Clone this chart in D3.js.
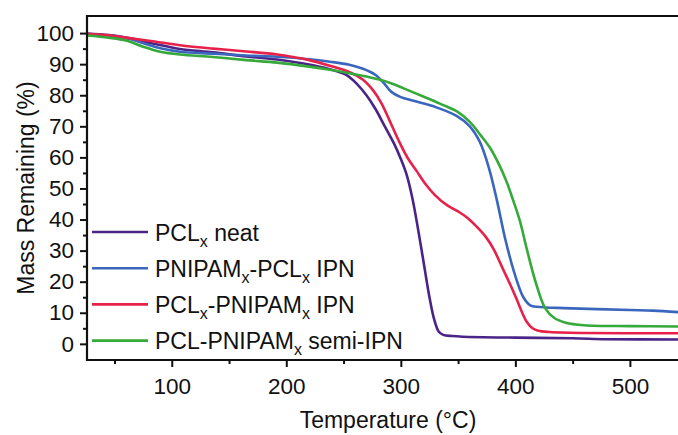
<!DOCTYPE html>
<html>
<head>
<meta charset="utf-8">
<script src="https://cdn.jsdelivr.net/npm/d3@7"></script>
<style>
  body { margin: 0; background: #fff; }
  svg text { font-family: "Liberation Sans", Arial, sans-serif; fill: #111; }
</style>
</head>
<body>
<svg id="chart" width="678" height="435"></svg>
<script>
// TGA curves: [temperature °C, mass %]
var pclNeat = [[26,99.8],[45,99.4],[64,98.3],[85,96.5],[107,94.9],[136,93.8],[165,92.5],[192,91.5],[220,89.9],[238,88.4],
  [252,86.6],[262,83.5],[270,80],[278,75.5],[286,70],[294,64.5],[300,59.5],[305,54.5],[310,47],[315,37],[320,26],[325,15],[329,8],
  [333,4],[337,2.9],[345,2.5],[354,2.3],[400,2.0],[450,1.8],[480,1.5],[542,1.4]];
var pnipamPcl = [[26,99.8],[45,99.2],[64,98.0],[85,95.6],[107,94.0],[136,93.4],[165,92.8],[192,92.4],[220,91.6],[238,90.8],
  [255,89.8],[267,88.5],[278,86.5],[285,84],[292,81],[300,79.4],[311,78.2],[331,76.1],[349,73.3],[360,70.1],[369,65],
  [377,56.5],[384,46],[391,34],[399,23],[407,15],[413,12.4],[425,11.8],[442,11.5],[500,10.9],[520,10.7],[542,10.2]];
var pclPnipam = [[26,99.8],[45,99.3],[64,98.3],[85,97.3],[107,96.1],[136,95.0],[165,94.1],[192,93.1],[220,91.3],[238,89.5],
  [255,87.5],[267,85.0],[276,81.5],[283,77.5],[290,72],[298,65.5],[306,59.8],[314,55.5],[322,51.2],[330,47.8],[340,44.7],
  [350,42.6],[358,40.6],[366,37.8],[374,34.5],[381,30.5],[388,25],[395,19.5],[401,14.5],[406,10],[410,7],[415,5],[420,4.2],
  [430,3.8],[460,3.5],[542,3.4]];
var semiIpn = [[26,99.2],[45,98.5],[60,97.6],[75,95.6],[90,94],[107,93.1],[136,92.3],[165,91.3],[192,90.5],[220,89.2],[238,88.2],
  [255,87.1],[270,86.0],[282,85],[292,83.8],[302,82.3],[313,80.6],[325,78.8],[336,77],[349,74.8],[360,71.5],[370,67],
  [378,63],[386,57.5],[392,52.5],[398,46.3],[404,39.5],[410,30.5],[418,19.5],[426,11.5],[434,8.3],[444,6.8],[460,6.0],[500,5.7],[542,5.6]];

var seriesNames = [["PCL", "x", " neat"], ["PNIPAM", "x", "-PCL", "x", " IPN"], ["PCL", "x", "-PNIPAM", "x", " IPN"], ["PCL-PNIPAM", "x", " semi-IPN"]];
var seriesData = [pclNeat, pnipamPcl, pclPnipam, semiIpn];
var seriesColors = ["#4a2486", "#3a67bd", "#e6224a", "#35a93a"];

var xMajor = [100, 200, 300, 400, 500];
var xMinor = [50, 150, 250, 350, 450];
var yMajor = [0, 10, 20, 30, 40, 50, 60, 70, 80, 90, 100];
var yMinor = [5, 15, 25, 35, 45, 55, 65, 75, 85, 95];

(function() {
  var svg = d3.select("#chart");
  var mLeft = 87, mRight = 678, mTop = 16, mBottom = 360;

  var x = d3.scaleLinear().domain([26, 542]).range([mLeft, mRight]);
  var y = d3.scaleLinear().domain([-5.2, 105.5]).range([mBottom, mTop]);

  var line = d3.line()
      .x(function(d) { return x(d[0]); })
      .y(function(d) { return y(d[1]); })
      .curve(d3.curveCatmullRom.alpha(0.5));

  var curves = svg.append("g");
  seriesData.forEach(function(s, i) {
    curves.append("path")
      .datum(s)
      .attr("d", line)
      .attr("fill", "none")
      .attr("stroke", seriesColors[i])
      .attr("stroke-width", 2.6)
      .attr("stroke-linejoin", "round");
  });

  // axes
  function styleAxis(g) {
    g.select(".domain").remove();
    g.selectAll("line").attr("stroke", "#111").attr("stroke-width", 2);
    g.selectAll("text").attr("font-size", 22.5).attr("fill", "#111")
      .style("font-family", "Liberation Sans, Arial, sans-serif");
  }

  svg.append("g")
    .attr("transform", "translate(0," + mBottom + ")")
    .call(d3.axisBottom(x).tickValues(xMajor).tickSize(7).tickPadding(11).tickFormat(d3.format("d")))
    .call(styleAxis);
  svg.append("g")
    .attr("transform", "translate(0," + mBottom + ")")
    .call(d3.axisBottom(x).tickValues(xMinor).tickSize(4).tickFormat(""))
    .call(styleAxis);

  svg.append("g")
    .attr("transform", "translate(" + mLeft + ",0)")
    .call(d3.axisLeft(y).tickValues(yMajor).tickSize(7).tickPadding(6).tickFormat(d3.format("d")))
    .call(styleAxis);
  svg.append("g")
    .attr("transform", "translate(" + mLeft + ",0)")
    .call(d3.axisLeft(y).tickValues(yMinor).tickSize(4).tickFormat(""))
    .call(styleAxis);

  // frame: top, left, bottom
  svg.append("path")
    .attr("d", "M" + mRight + "," + mTop + "H" + mLeft + "V" + mBottom + "H" + mRight)
    .attr("fill", "none")
    .attr("stroke", "#111")
    .attr("stroke-width", 2.2);

  // titles
  svg.append("text")
    .attr("x", 388)
    .attr("y", 428)
    .attr("text-anchor", "middle")
    .attr("font-size", 23)
    .text("Temperature (°C)");

  svg.append("text")
    .attr("transform", "translate(33.5," + ((mTop + mBottom) / 2) + ") rotate(-90)")
    .attr("text-anchor", "middle")
    .attr("font-size", 23)
    .text("Mass Remaining (%)");

  // legend
  var legend = svg.append("g").attr("transform", "translate(92,232)");
  seriesNames.forEach(function(parts, i) {
    var row = legend.append("g").attr("transform", "translate(0," + (i * 36.2) + ")");
    row.append("line")
      .attr("x1", 0).attr("x2", 56)
      .attr("stroke", seriesColors[i])
      .attr("stroke-width", 2.6);
    var t = row.append("text")
      .attr("x", 63)
      .attr("y", 8.5)
      .attr("font-size", 23);
    parts.forEach(function(p, j) {
      var sub = j % 2 === 1;
      t.append("tspan")
        .attr("font-size", sub ? 16 : 23)
        .attr("dy", sub ? 6 : (j > 0 ? -6 : 0))
        .text(p);
    });
  });
})();
</script>
</body>
</html>
